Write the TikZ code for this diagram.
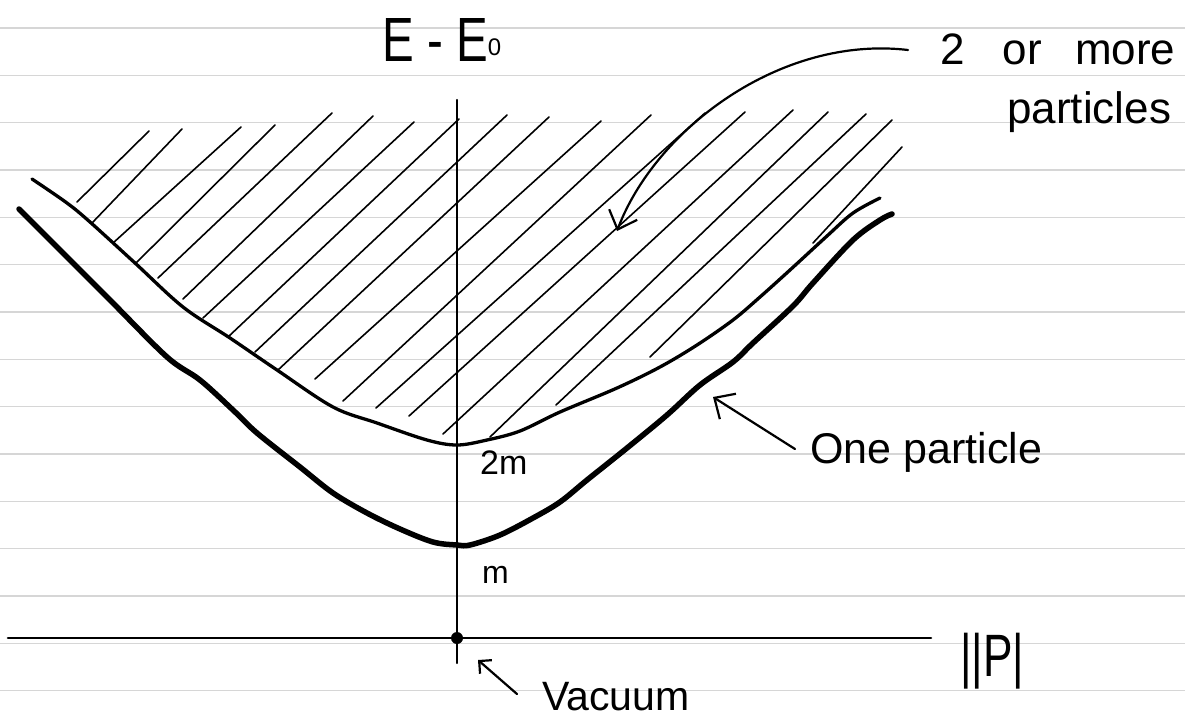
\documentclass[tikz,border=0pt]{standalone}
\usepackage{fontspec}
\setmainfont{Liberation Sans}
\usetikzlibrary{arrows.meta}
\begin{document}
\begin{tikzpicture}[x=1pt,y=-1pt,
  rule/.style={draw=black!16, line width=1.2pt},
  axisline/.style={line width=2.2pt, line cap=round},
  hatch/.style={line width=1.6pt, line cap=round},
  onecurve/.style={line width=5.5pt, line cap=round, line join=round},
  twocurve/.style={line width=3.3pt, line cap=round, line join=round},
  pointer/.style={line width=2.2pt, line cap=round, line join=round},
  lbl/.style={inner sep=0pt, anchor=base west}]
\useasboundingbox (0,0) rectangle (1185,721);
\fill[white] (0,0) rectangle (1185,721);
% ruled paper
\foreach \k in {0,...,14} \draw[rule] (0,28+47.33*\k) -- (1185,28+47.33*\k);
% hatching (two or more particles)
\foreach \a/\b/\c/\d in {77/202/149/131, 92/223/182/129, 113/243/241/127,
  136/263/275/125, 158/278/332/113, 183/299/373/116, 203/318/414/122,
  228/337/459/119, 255/352/507/115, 278/370/549/117, 315/379/601/121,
  343/401/651/115, 376/408/705/113, 409/416/745/112, 443/434/793/110,
  490/437/828/112, 556/405/866/114, 650/357/892/120, 813/243/902/147}
  \draw[hatch] (\a,\b) -- (\c,\d);
% two-particle threshold
\draw[twocurve] plot[smooth, tension=0.55] coordinates {(32,179) (67,203) (90,222)
  (135,263) (183,307) (230,338) (277,370) (333,407) (377,423) (427,440)
  (457,445) (487,440) (520,431) (560,412) (617,388) (660,367) (697,345)
  (733,320) (760,297) (790,270) (827,236) (853,213) (880,198)};
% one-particle curve
\draw[onecurve] plot[smooth, tension=0.55] coordinates {(19,209) (43,233) (70,260)
  (110,300) (167,357) (200,380) (233,410) (257,433) (300,467) (333,493)
  (367,513) (400,529) (433,542) (457,545) (470,545) (500,535) (533,518)
  (560,502) (587,480) (627,448) (667,415) (700,385) (733,362) (753,343)
  (793,306) (813,283) (853,240) (880,220) (892,214)};
% axes
\coordinate (ytop) at (457,100);
\coordinate (ybot) at (457,663);
\coordinate (xl) at (8,638);
\coordinate (xr) at (931,638);
\draw[axisline] (ybot) -- (ytop);
\draw[axisline, line width=2.6pt] (xl) -- (xr);
\node[circle, fill, inner sep=0pt, minimum size=12pt] (vac) at (457,638) {};
% labels
\node[lbl, font=\fontsize{50}{56}\selectfont] (eaxis) at (382,61)
  {\scalebox{0.95}[1.25]{E - E}\raisebox{6pt}{\fontsize{24}{24}\selectfont 0}};
\node[lbl, font=\fontsize{52}{56}\selectfont] (paxis) at (960,676)
  {\scalebox{0.85}[1.15]{||P|}};
\node[lbl, font=\fontsize{44}{50}\selectfont] (multi1) at (940,64)
  {2 \hspace{26pt}or \hspace{21pt}more};
\node[lbl, font=\fontsize{44}{50}\selectfont] (multi2) at (1007,123) {particles};
\node[lbl, font=\fontsize{43}{50}\selectfont] (one) at (810,463) {One particle};
\node[lbl, font=\fontsize{34}{40}\selectfont] (twom) at (480,474) {2m};
\node[lbl, font=\fontsize{32}{40}\selectfont] (mlab) at (482,583) {m};
\node[lbl, font=\fontsize{41}{46}\selectfont] (vacuum) at (542,710) {Vacuum};
% pointers
\coordinate (twotail) at (908,50);
\coordinate (twotip) at (617,231);
\draw[pointer, -{Straight Barb[length=16pt,width=30pt]}]
  (twotail) .. controls (780,35) and (655,130) .. (twotip);
\coordinate (onetail) at (795,449);
\coordinate (onetip) at (713,397);
\draw[pointer, -{Straight Barb[length=16pt,width=30pt]}] (onetail) -- (onetip);
\coordinate (vactail) at (517,694);
\coordinate (vactip) at (478,660);
\draw[pointer, -{Straight Barb[length=9pt,width=18pt]}] (vactail) -- (vactip);
\end{tikzpicture}
\end{document}
